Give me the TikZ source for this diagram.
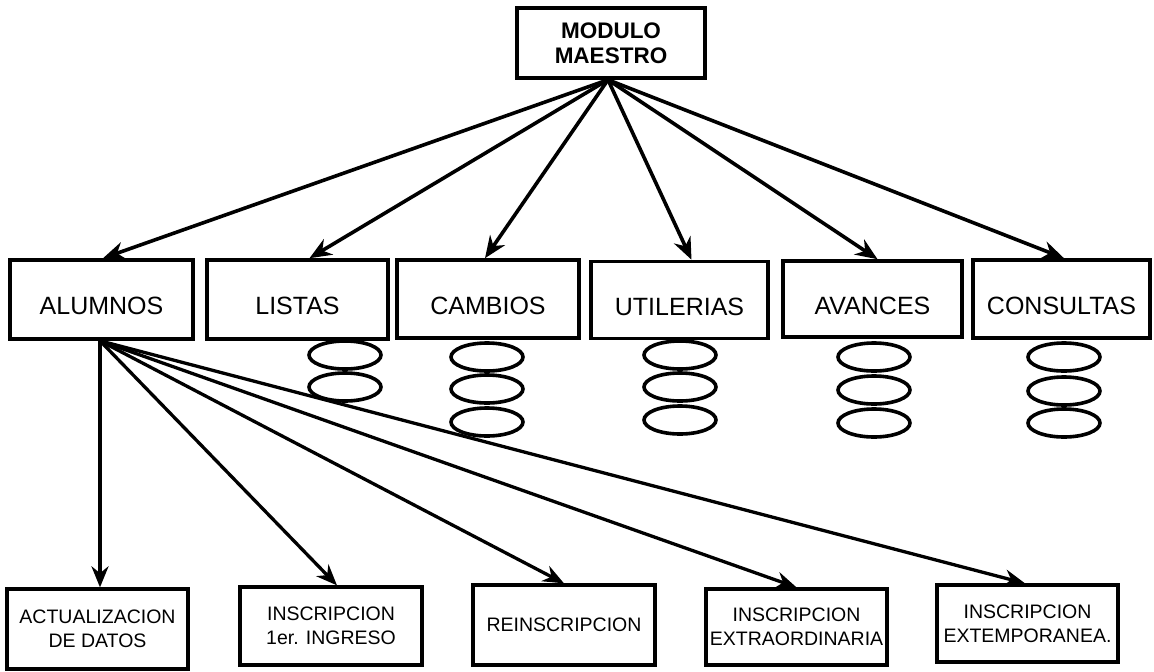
\documentclass[tikz,border=0pt]{standalone}
\usepackage{fontspec}
\setmainfont{Liberation Sans}
\usetikzlibrary{arrows.meta,shapes.geometric}
\begin{document}
\begin{tikzpicture}[x=1pt,y=-1pt,
  box/.style={draw,line width=3.6pt,rectangle,inner sep=0pt,align=center},
  topbox/.style={box,font=\fontsize{22.5}{25}\selectfont\bfseries},
  midbox/.style={box,font=\fontsize{25}{29}\selectfont,text height=30pt,text depth=0pt},
  lowbox/.style={box,line width=3.3pt,font=\fontsize{19.5}{24}\selectfont},
  oval/.style={draw,ellipse,line width=3.6pt,minimum width=72pt,minimum height=28pt,inner sep=0pt},
  arr/.style={line width=3.6pt,-{Stealth[length=22pt,width=18pt]}},
  arrb/.style={line width=3.3pt,-{Stealth[length=21pt,width=17pt]}}]
\useasboundingbox (0,0) rectangle (1154,672);
% top
\node[topbox,minimum width=188pt,minimum height=70pt] (maestro) at (611,43) {MODULO\\MAESTRO};
% middle row
\node[midbox,minimum width=183pt,minimum height=79pt] (alumnos) at (101.5,299.5) {ALUMNOS};
\node[midbox,minimum width=181pt,minimum height=79pt] (listas) at (297.5,299.5) {LISTAS};
\node[midbox,minimum width=182pt,minimum height=78pt] (cambios) at (488,299) {CAMBIOS};
\node[midbox,minimum width=177pt,minimum height=77pt] (utilerias) at (679.5,300) {UTILERIAS};
\node[midbox,minimum width=179pt,minimum height=76pt] (avances) at (872.5,299) {AVANCES};
\node[midbox,minimum width=177pt,minimum height=78pt] (consultas) at (1061.5,299) {CONSULTAS};
% ellipses
\node[oval] (l1) at (345,355) {};
\node[oval] (l2) at (345,387) {};
\node[oval] (c1) at (487,357) {};
\node[oval] (c2) at (487,389) {};
\node[oval] (c3) at (487,422) {};
\node[oval] (u1) at (680,355) {};
\node[oval] (u2) at (680,387) {};
\node[oval] (u3) at (680,420) {};
\node[oval] (a1) at (874,357) {};
\node[oval] (a2) at (874,390) {};
\node[oval] (a3) at (874,423) {};
\node[oval] (k1) at (1064,357) {};
\node[oval] (k2) at (1064,391) {};
\node[oval] (k3) at (1064,423) {};
% bottom row
\node[lowbox,minimum width=181pt,minimum height=80pt] (actual) at (97.5,629) {ACTUALIZACION\\DE DATOS};
\node[lowbox,minimum width=182pt,minimum height=78pt] (insc) at (331,626) {INSCRIPCION\\1er. INGRESO};
\node[lowbox,minimum width=182pt,minimum height=80pt] (reinsc) at (564,625) {REINSCRIPCION};
\node[lowbox,minimum width=181pt,minimum height=76pt] (extra) at (796.5,627) {INSCRIPCION\\EXTRAORDINARIA};
\node[lowbox,minimum width=181pt,minimum height=77pt] (extemp) at (1027.5,623.5) {INSCRIPCION\\EXTEMPORANEA.};
% arrows from maestro
\draw[arr] ([xshift=-3pt]maestro.south) -- ([xshift=1.5pt]alumnos.north);
\draw[arr] ([xshift=-3pt]maestro.south) -- ([xshift=12pt]listas.north);
\draw[arr] ([xshift=-3pt]maestro.south) -- ([xshift=-3pt]cambios.north);
\draw[arr] ([xshift=-3pt]maestro.south) -- ([xshift=12pt]utilerias.north);
\draw[arr] ([xshift=-3pt]maestro.south) -- ([xshift=5pt]avances.north);
\draw[arr] ([xshift=-3pt]maestro.south) -- ([xshift=2.5pt]consultas.north);
% arrows from alumnos
\draw[arrb] ([xshift=-1.5pt]alumnos.south) -- ([xshift=-1.5pt]alumnos.south |- actual.north);
\draw[arrb] ([xshift=-1.5pt]alumnos.south) -- ([xshift=6pt]insc.north);
\draw[arrb] ([xshift=-1.5pt]alumnos.south) -- (reinsc.north);
\draw[arrb] ([xshift=-1.5pt]alumnos.south) -- (extra.north);
\draw[arrb] ([xshift=-1.5pt]alumnos.south) -- ([xshift=-2.5pt]extemp.north);
\end{tikzpicture}
\end{document}
